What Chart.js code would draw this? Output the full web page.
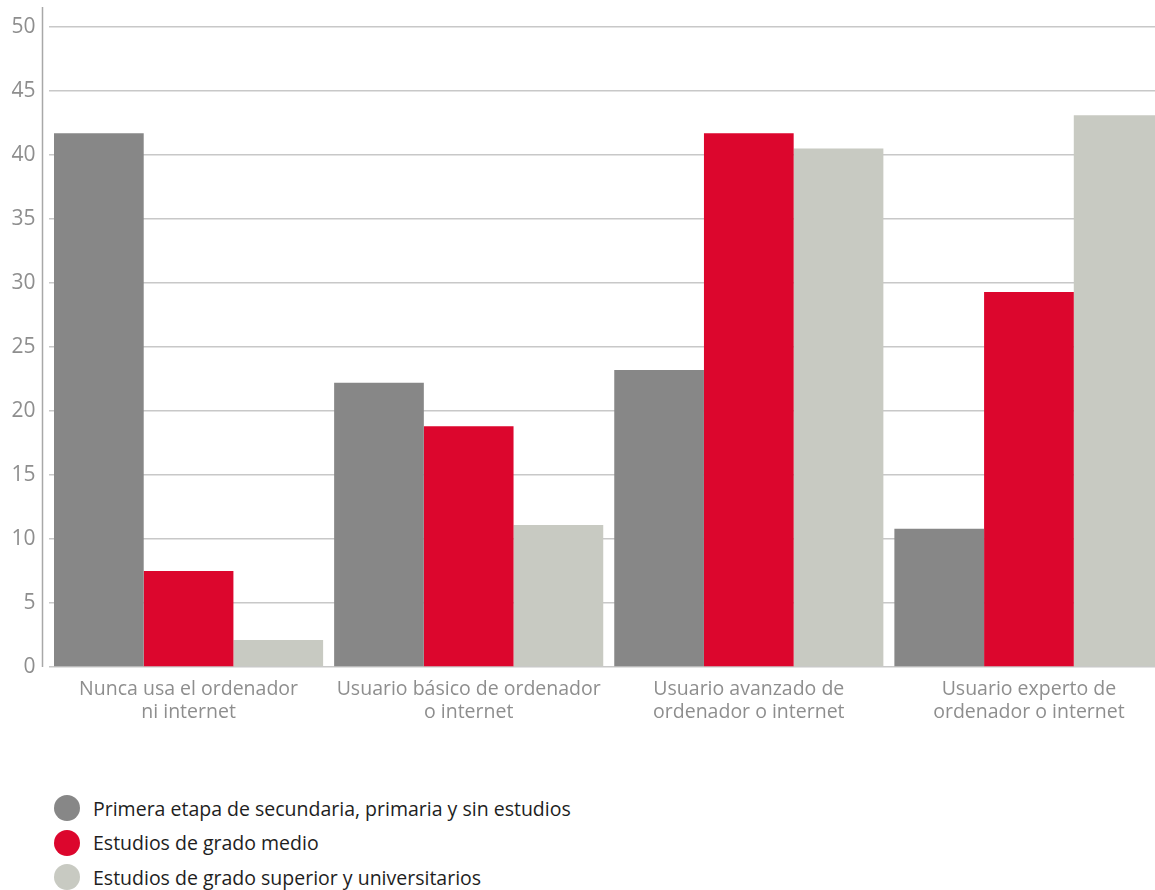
<!DOCTYPE html>
<html lang="es">
<head>
    <meta charset="UTF-8">
    <title>Uso de ordenador e internet por nivel de estudios</title>
    <script src="https://cdn.jsdelivr.net/npm/chart.js"></script>
    <style>
        html, body { margin: 0; padding: 0; background: #fff; overflow: hidden; }
        #wrap { position: absolute; left: 0; top: 0; width: 1170px; height: 740px; }
        #legend { position: absolute; left: 54px; top: 791px; font-family: "Open Sans", sans-serif; font-size: 19.5px; color: #1e1e1e; }
        #legend div { display: flex; align-items: center; height: 34.5px; }
        #legend span.dot { width: 26px; height: 26px; border-radius: 50%; margin-right: 13px; display: inline-block; }
    </style>
</head>
<body>
    <div id="wrap"><canvas id="chart"></canvas></div>
    <div id="legend"></div>
    <script>
        const categories = [
            ['Nunca usa el ordenador', 'ni internet'],
            ['Usuario básico de ordenador', 'o internet'],
            ['Usuario avanzado de', 'ordenador o internet'],
            ['Usuario experto de', 'ordenador o internet']
        ];
        const seriesNames = [
            'Primera etapa de secundaria, primaria y sin estudios',
            'Estudios de grado medio',
            'Estudios de grado superior y universitarios'
        ];
        const primaria = [41.7, 22.2, 23.2, 10.8];
        const gradoMedio = [7.5, 18.8, 41.7, 29.3];
        const superior = [2.1, 11.1, 40.5, 43.1];
        const colors = ['#878787', '#dc062d', '#c8cac2'];

        // axis line sticks out above the plot and sits left of the bars
        const axisLine = {
            id: 'axisLine',
            beforeDatasetsDraw(chart) {
                const { ctx, chartArea } = chart;
                ctx.save();
                ctx.strokeStyle = '#a8a8a8';
                ctx.lineWidth = 1.5;
                ctx.beginPath();
                ctx.moveTo(chartArea.left - 6, chartArea.top - 20);
                ctx.lineTo(chartArea.left - 6, chartArea.bottom);
                ctx.stroke();
                ctx.restore();
            }
        };

        const chart = new Chart(document.getElementById('chart').getContext('2d'), {
            type: 'bar',
            data: {
                labels: categories,
                datasets: [primaria, gradoMedio, superior].map((d, i) => ({
                    label: seriesNames[i],
                    data: d,
                    backgroundColor: colors[i],
                    borderWidth: 0,
                    barPercentage: 1,
                    categoryPercentage: 269 / 280
                }))
            },
            options: {
                responsive: true,
                maintainAspectRatio: false,
                animation: false,
                layout: { padding: { top: 27, right: 1, left: 0, bottom: 0 } },
                plugins: { legend: { display: false }, tooltip: { enabled: false } },
                scales: {
                    x: {
                        grid: { display: false, drawTicks: false },
                        border: { display: false },
                        ticks: {
                            color: '#8e8e8e',
                            padding: 11,
                            maxRotation: 0,
                            font: { family: '"Open Sans", sans-serif', size: 19.5, lineHeight: 1.18 }
                        },
                        afterFit(scale) { scale.height = 73; }
                    },
                    y: {
                        min: 0,
                        max: 50,
                        ticks: {
                            stepSize: 5,
                            color: '#8e8e8e',
                            padding: 13,
                            font: { family: '"Open Sans", sans-serif', size: 21 }
                        },
                        grid: { color: '#c8c8c8', lineWidth: 1.5, drawTicks: false },
                        border: { display: false },
                        afterFit(scale) { scale.width = 48.5; }
                    }
                }
            },
            plugins: [axisLine]
        });

        const legend = document.getElementById('legend');
        chart.data.datasets.forEach(ds => {
            const row = document.createElement('div');
            const dot = document.createElement('span');
            dot.className = 'dot';
            dot.style.background = ds.backgroundColor;
            row.appendChild(dot);
            row.appendChild(document.createTextNode(ds.label));
            legend.appendChild(row);
        });
    </script>
</body>
</html>
